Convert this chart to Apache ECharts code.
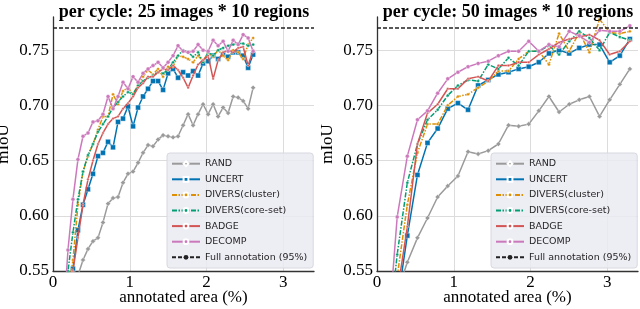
<!DOCTYPE html>
<html><head><meta charset="utf-8">
<script src="https://cdn.jsdelivr.net/npm/echarts@6/dist/echarts.min.js"></script>
<style>html,body{margin:0;padding:0;background:#fff}#c{width:640px;height:309px}</style>
</head><body><div id="c"></div>
<script>
// ---------- data ----------
const methods = ['RAND', 'UNCERT', 'DIVERS(cluster)', 'DIVERS(core-set)', 'BADGE', 'DECOMP'];
const fullName = 'Full annotation (95%)';
const fullValue = 0.77;
const titles = ['per cycle: 25 images * 10 regions', 'per cycle: 50 images * 10 regions'];
const xName = 'annotated area (%)';
const yName = 'mIoU';
const xRange = [0, 3.4];
const yRange = [0.55, 0.78];

// left panel: annotated area (%) per cycle
const leftX = [0.130, 0.195, 0.260, 0.325, 0.391, 0.456, 0.521, 0.586, 0.651, 0.717, 0.782,
  0.847, 0.912, 0.977, 1.043, 1.108, 1.173, 1.238, 1.303, 1.369, 1.434, 1.499, 1.564, 1.629,
  1.695, 1.760, 1.825, 1.890, 1.955, 2.021, 2.086, 2.151, 2.216, 2.281, 2.347, 2.412, 2.477,
  2.542, 2.607];
const leftRAND = [0.50, 0.52, 0.535, 0.546, 0.560, 0.570, 0.577, 0.580, 0.594, 0.611, 0.616,
  0.617, 0.630, 0.638, 0.640, 0.648, 0.657, 0.664, 0.663, 0.669, 0.673, 0.672, 0.671, 0.672,
  0.682, 0.692, 0.682, 0.692, 0.701, 0.692, 0.701, 0.690, 0.698, 0.693, 0.708, 0.707, 0.704,
  0.697, 0.716];
const leftUNCERT = [0.47, 0.515, 0.552, 0.587, 0.610, 0.624, 0.638, 0.654, 0.657, 0.667, 0.662,
  0.685, 0.688, 0.699, 0.681, 0.698, 0.708, 0.715, 0.722, 0.722, 0.714, 0.729, 0.733, 0.725,
  0.730, 0.727, 0.731, 0.727, 0.738, 0.740, 0.745, 0.742, 0.746, 0.744, 0.748, 0.748, 0.745,
  0.734, 0.746];
const leftCLUSTER = [0.48, 0.53, 0.56, 0.61, 0.64, 0.654, 0.665, 0.678, 0.69, 0.69, 0.71,
  0.701, 0.713, 0.716, 0.71, 0.718, 0.726, 0.732, 0.728, 0.733, 0.726, 0.735, 0.735, 0.745,
  0.744, 0.742, 0.739, 0.745, 0.74, 0.748, 0.744, 0.75, 0.745, 0.741, 0.75, 0.748, 0.742,
  0.755, 0.761];
const leftCORESET = [0.50, 0.55, 0.585, 0.615, 0.64, 0.655, 0.665, 0.676, 0.683, 0.69, 0.698,
  0.703, 0.708, 0.712, 0.71, 0.718, 0.722, 0.725, 0.727, 0.73, 0.729, 0.732, 0.739, 0.745,
  0.75, 0.748, 0.744, 0.748, 0.739, 0.748, 0.745, 0.75, 0.752, 0.754, 0.755, 0.756, 0.756,
  0.754, 0.755];
const leftBADGE = [0.47, 0.52, 0.55, 0.58, 0.61, 0.633, 0.65, 0.665, 0.675, 0.683, 0.688,
  0.69, 0.697, 0.702, 0.708, 0.716, 0.72, 0.726, 0.726, 0.73, 0.733, 0.732, 0.736, 0.732,
  0.725, 0.716, 0.727, 0.737, 0.741, 0.745, 0.724, 0.741, 0.748, 0.75, 0.748, 0.752, 0.753,
  0.736, 0.75];
const leftDECOMP = [0.50, 0.569, 0.615, 0.651, 0.672, 0.675, 0.685, 0.686, 0.692, 0.708, 0.697,
  0.708, 0.721, 0.715, 0.726, 0.721, 0.729, 0.733, 0.736, 0.739, 0.734, 0.739, 0.745, 0.754,
  0.749, 0.748, 0.749, 0.755, 0.750, 0.749, 0.759, 0.754, 0.758, 0.749, 0.759, 0.755, 0.764,
  0.761, 0.749];

// right panel
const rightX = [0.131, 0.263, 0.395, 0.527, 0.658, 0.790, 0.922, 1.054, 1.186, 1.317, 1.449,
  1.581, 1.713, 1.845, 1.977, 2.108, 2.240, 2.372, 2.504, 2.635, 2.767, 2.899, 3.031, 3.163,
  3.294];
const rightRAND = [0.50, 0.53, 0.558, 0.580, 0.598, 0.617, 0.627, 0.636, 0.658, 0.656, 0.659,
  0.665, 0.682, 0.681, 0.683, 0.695, 0.708, 0.694, 0.701, 0.705, 0.708, 0.690, 0.705, 0.719,
  0.733];
const rightUNCERT = [0.45, 0.52, 0.582, 0.637, 0.666, 0.679, 0.697, 0.702, 0.696, 0.718, 0.723,
  0.728, 0.730, 0.733, 0.735, 0.739, 0.747, 0.750, 0.747, 0.752, 0.755, 0.755, 0.739, 0.745,
  0.760];
const rightCLUSTER = [0.45, 0.545, 0.61, 0.657, 0.683, 0.683, 0.70, 0.708, 0.71, 0.716, 0.722,
  0.731, 0.731, 0.742, 0.749, 0.749, 0.737, 0.765, 0.749, 0.766, 0.748, 0.778, 0.766, 0.765,
  0.767];
const rightCORESET = [0.48, 0.565, 0.630, 0.665, 0.687, 0.696, 0.709, 0.718, 0.723, 0.722, 0.737,
  0.733, 0.743, 0.736, 0.749, 0.749, 0.754, 0.746, 0.758, 0.767, 0.761, 0.750, 0.766, 0.762,
  0.759];
const rightBADGE = [0.45, 0.53, 0.59, 0.665, 0.693, 0.701, 0.715, 0.715, 0.724, 0.726, 0.722,
  0.736, 0.736, 0.739, 0.739, 0.746, 0.751, 0.757, 0.760, 0.762, 0.764, 0.759, 0.746, 0.749,
  0.758];
const rightDECOMP = [0.48, 0.599, 0.654, 0.687, 0.695, 0.711, 0.724, 0.730, 0.735, 0.738, 0.740,
  0.745, 0.749, 0.749, 0.758, 0.749, 0.755, 0.753, 0.767, 0.763, 0.757, 0.768, 0.767, 0.767,
  0.772];

// ---------- styles ----------
const styles = {
  'RAND': {color: '#9a9a9a', symbol: 'diamond', size: 5, dash: 'solid'},
  'UNCERT': {color: '#0173b2', symbol: 'rect', size: 5, dash: 'solid'},
  'DIVERS(cluster)': {color: '#de8f05', symbol: 'circle', size: 3, dash: [5, 1.5, 1.5, 1.5]},
  'DIVERS(core-set)': {color: '#029e73', symbol: 'circle', size: 3, dash: [5, 1.5, 1.5, 1.5]},
  'BADGE': {color: '#d35454', symbol: 'circle', size: 2.5, dash: 'solid'},
  'DECOMP': {color: '#cc78bc', symbol: 'circle', size: 4, dash: 'solid'}
};
const serif = 'Liberation Serif';

const panels = [
  {x: leftX, ys: [leftRAND, leftUNCERT, leftCLUSTER, leftCORESET, leftBADGE, leftDECOMP]},
  {x: rightX, ys: [rightRAND, rightUNCERT, rightCLUSTER, rightCORESET, rightBADGE, rightDECOMP]}
];
const gridLeft = [53, 377];
const legendLeft = [167, 491];

const chart = echarts.init(document.getElementById('c'), null, {renderer: 'canvas'});
const series = [];
panels.forEach((p, g) => {
  methods.forEach((m, k) => {
    const s = styles[m];
    series.push({
      type: 'line', name: m, xAxisIndex: g, yAxisIndex: g,
      data: p.x.map((x, i) => [x, p.ys[k][i]]),
      symbol: s.symbol, symbolSize: s.size, showSymbol: true,
      lineStyle: {color: s.color, width: 1.5, type: s.dash},
      itemStyle: {color: s.color, borderColor: '#fff', borderWidth: 0.4},
      clip: true, animation: false, z: 3 + k
    });
  });
  series.push({
    type: 'line', name: fullName, xAxisIndex: g, yAxisIndex: g,
    data: [[xRange[0], fullValue], [xRange[1], fullValue]],
    symbol: 'none', lineStyle: {color: '#222', width: 1.5, type: [4, 2]},
    itemStyle: {color: '#222'}, animation: false, z: 10
  });
});

const legendNames = methods.concat([fullName]);
const option = {
  backgroundColor: '#fff',
  animation: false,
  title: titles.map((t, g) => ({
    text: t, left: g === 0 ? 179 : 503, top: -2, textAlign: 'center',
    textStyle: {fontFamily: serif, fontWeight: 'bold', fontSize: 18, color: '#000'}
  })),
  grid: gridLeft.map(l => ({left: l, top: 17, width: 261, height: 254,
    containLabel: false, outerBoundsMode: 'none'})),
  xAxis: [0, 1].map(g => ({
    type: 'value', gridIndex: g, min: xRange[0], max: xRange[1], interval: 1,
    name: xName, nameLocation: 'middle', nameGap: 18, nameMoveOverlap: false,
    nameTextStyle: {fontFamily: serif, fontSize: 17, color: '#000'},
    axisLine: {show: true, onZero: false, lineStyle: {color: '#333', width: 1.3}},
    axisTick: {show: false},
    axisLabel: {fontFamily: serif, fontSize: 17, color: '#000', margin: 3, showMaxLabel: false},
    splitLine: {show: true, showMinLine: false, showMaxLine: false, lineStyle: {color: '#dcdcdc', width: 1}}
  })),
  yAxis: [0, 1].map(g => ({
    type: 'value', gridIndex: g, min: yRange[0], max: yRange[1], interval: 0.05,
    name: yName, nameLocation: 'middle', nameGap: 41,
    nameTextStyle: {fontFamily: serif, fontSize: 17, color: '#000'},
    axisLine: {show: true, onZero: false, lineStyle: {color: '#333', width: 1.3}},
    axisTick: {show: false},
    axisLabel: {fontFamily: serif, fontSize: 17, color: '#000', margin: 4, showMaxLabel: false,
      formatter: v => v.toFixed(2)},
    splitLine: {show: true, showMinLine: false, showMaxLine: false, lineStyle: {color: '#dcdcdc', width: 1}}
  })),
  legend: legendLeft.map(l => ({
    data: legendNames, orient: 'vertical', left: l, top: 153,
    itemWidth: 28, itemHeight: 6, itemGap: 4.2, padding: [5, 6, 5, 4],
    selectedMode: false,
    backgroundColor: 'rgba(234,234,242,0.85)', borderColor: '#d8d8e0', borderWidth: 1, borderRadius: 3,
    textStyle: {fontFamily: 'DejaVu Sans', fontSize: 9.5, color: '#262626', lineHeight: 11.4}
  })),
  series: series
};
chart.setOption(option);
</script>
</body></html>
